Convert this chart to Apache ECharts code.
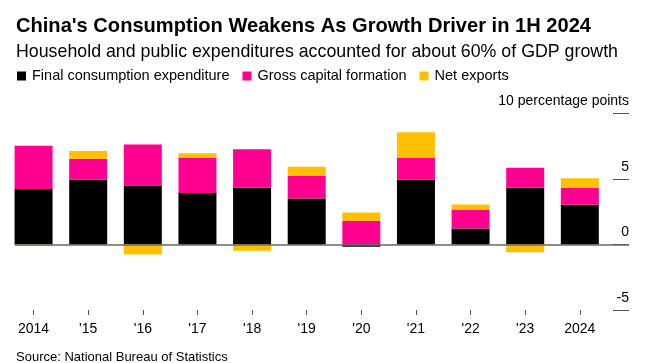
<!DOCTYPE html>
<html>
<head>
<meta charset="utf-8">
<script src="https://cdn.jsdelivr.net/npm/echarts@6/dist/echarts.min.js"></script>
<style>
html,body{margin:0;padding:0;background:#fff;}
#chart{width:658px;height:363px;}
</style>
</head>
<body>
<div id="chart"></div>
<script>
const categories = ['2014', "'15", "'16", "'17", "'18", "'19", "'20", "'21", "'22", "'23", '2024'];
const consumption = [4.22, 4.93, 4.50, 3.92, 4.32, 3.51, -0.18, 4.93, 1.22, 4.32, 3.02];
const capitalFormation = [3.31, 1.60, 3.13, 2.69, 2.93, 1.73, 1.80, 1.68, 1.42, 1.53, 1.30];
const netExports = [-0.08, 0.59, -0.76, 0.34, -0.49, 0.68, 0.64, 1.94, 0.41, -0.59, 0.72];
const yTicks = [-5, 0, 5, 10];

const FONT = '"Liberation Sans", Arial, Helvetica, sans-serif';
const idx = categories.map((c, i) => i);
// value first, category index second, so the stack is computed on the value dimension
const toPairs = arr => arr.map((v, i) => [v, i]);

const chart = echarts.init(document.getElementById('chart'), null, {renderer: 'canvas'});
chart.setOption({
  animation: false,
  backgroundColor: '#fff',
  title: [
    {text: "China's Consumption Weakens As Growth Driver in 1H 2024", left: 16, top: 16, padding: 0,
     textStyle: {fontFamily: FONT, fontSize: 20.1, fontWeight: 'bold', color: '#000'}},
    {text: 'Household and public expenditures accounted for about 60% of GDP growth', left: 16, top: 43, padding: 0,
     textStyle: {fontFamily: FONT, fontSize: 17.8, fontWeight: 'normal', color: '#000'}},
    {text: 'Source: National Bureau of Statistics', left: 16, top: 351, padding: 0,
     textStyle: {fontFamily: FONT, fontSize: 13, fontWeight: 'normal', color: '#000'}}
  ],
  legend: {
    left: 17, top: 68.5, padding: 0, icon: 'rect', itemWidth: 9, itemHeight: 9, itemGap: 13,
    textStyle: {fontFamily: FONT, fontSize: 14.5, color: '#000', padding: [0, 0, 0, 1]},
    data: ['Final consumption expenditure', 'Gross capital formation', 'Net exports']
  },
  grid: {left: 15, right: 29, top: 113.3, bottom: 53, containLabel: false},
  xAxis: {
    type: 'value', min: -0.34, max: 10.9,
    axisLine: {show: false, onZero: false},
    splitLine: {show: false},
    axisTick: {show: true, length: 5, customValues: idx, lineStyle: {color: '#555', width: 1}},
    axisLabel: {customValues: idx, margin: 12, fontFamily: FONT, fontSize: 14, color: '#000',
      formatter: v => categories[Math.round(v)]}
  },
  yAxis: {
    type: 'value', position: 'right', min: -5, max: 10, interval: 5,
    axisLine: {show: false, onZero: false},
    splitLine: {show: false},
    axisTick: {show: true, inside: true, length: 16, lineStyle: {color: '#555', width: 1}},
    axisLabel: {margin: 0, align: 'right', verticalAlign: 'bottom', padding: [0, 0, 5, 0],
      fontFamily: FONT, fontSize: 14, color: '#000',
      formatter: v => (v === 10 ? '10 percentage points' : String(v))}
  },
  series: [
    {name: 'Final consumption expenditure', type: 'bar', stack: 'gdp', barWidth: 38,
     encode: {x: 1, y: 0}, itemStyle: {color: '#000000'}, data: toPairs(consumption)},
    {name: 'Gross capital formation', type: 'bar', stack: 'gdp', barWidth: 38,
     encode: {x: 1, y: 0}, itemStyle: {color: '#ff0090'}, data: toPairs(capitalFormation)},
    {name: 'Net exports', type: 'bar', stack: 'gdp', barWidth: 38,
     encode: {x: 1, y: 0}, itemStyle: {color: '#ffc000'}, data: toPairs(netExports),
     markLine: {silent: true, symbol: 'none', animation: false,
       label: {show: false}, lineStyle: {color: '#666', width: 1.5, type: 'solid'},
       data: [{yAxis: 0}]}}
  ]
});
</script>
</body>
</html>
